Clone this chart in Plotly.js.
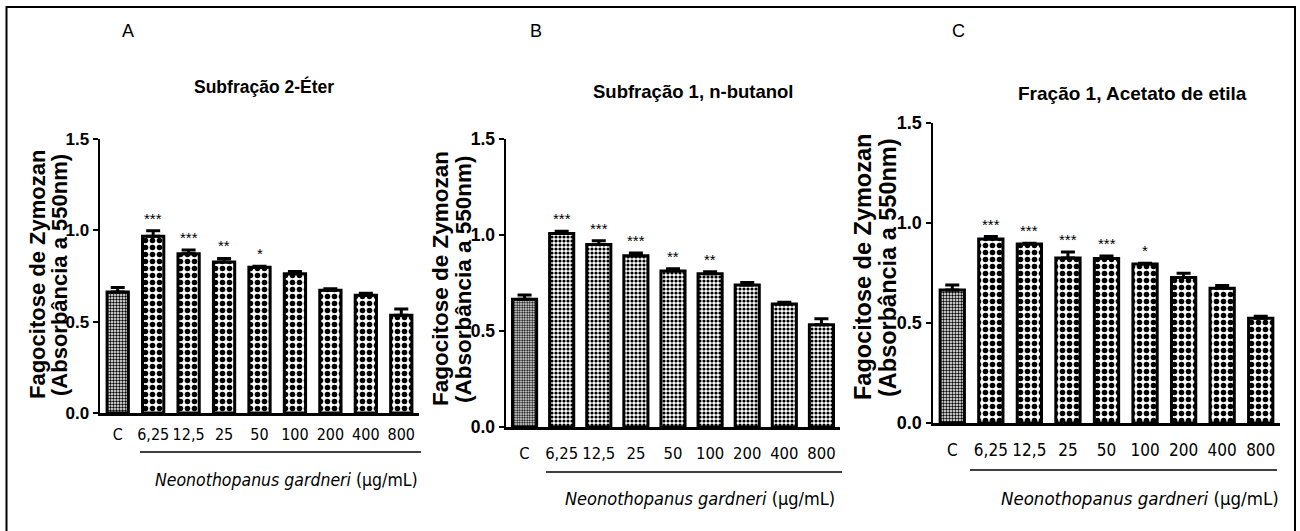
<!DOCTYPE html>
<html>
<head>
<meta charset="utf-8">
<script src="https://cdn.plot.ly/plotly-3.0.1.min.js"></script>
<style>html,body{margin:0;padding:0;background:#fff;}#chart{width:1300px;height:531px;}</style>
</head>
<body>
<div id="chart"></div>
<script>
// ---- data ----
const categories = ['C', '6,25', '12,5', '25', '50', '100', '200', '400', '800'];
const yTickVals = [0, 0.5, 1.0, 1.5];
const yTickText = ['0.0', '0.5', '1.0', '1.5'];

const valuesA = [0.662, 0.968, 0.872, 0.826, 0.798, 0.763, 0.672, 0.645, 0.535];
const errA    = [0.025, 0.030, 0.020, 0.020, 0.005, 0.012, 0.008, 0.010, 0.035];
const starsA  = ['', '***', '***', '**', '*', '', '', '', ''];

const valuesB = [0.665, 1.008, 0.950, 0.892, 0.812, 0.798, 0.740, 0.640, 0.532];
const errB    = [0.022, 0.012, 0.020, 0.014, 0.012, 0.010, 0.012, 0.010, 0.032];
const starsB  = ['', '***', '***', '***', '**', '**', '', '', ''];

const valuesC = [0.665, 0.920, 0.895, 0.825, 0.822, 0.795, 0.727, 0.674, 0.524];
const errC    = [0.025, 0.012, 0.004, 0.030, 0.013, 0.004, 0.022, 0.013, 0.010];
const starsC  = ['', '***', '***', '***', '***', '*', '', '', ''];

const panelLetters = ['A', 'B', 'C'];
const panelTitles = ['Subfração 2-Éter', 'Subfração 1, n-butanol', 'Fração 1, Acetato de etila'];
const yTitle1 = 'Fagocitose de Zymozan';
const yTitle2 = '(Absorbância a 550nm)';
const xTitle = '<i>Neonothopanus gardneri</i> (µg/mL)';

// ---- layout helpers (pixel -> paper) ----
const W = 1300, H = 531;
const px = v => v / W;
const py = v => 1 - v / H;

const NARROW = '"Liberation Sans Narrow", "Arial Narrow", "DejaVu Sans Condensed", sans-serif';
const ARIAL = '"Liberation Sans", Arial, sans-serif';

const panels = [
  {vals: valuesA, err: errA, stars: starsA, x0: 100, x1: 419, y0: 139, y1: 413,
   barW: 0.60, patCtrl: 3, patTreat: 7, letter: [128, 31], title: [264, 87], titleSize: 17.5,
   yFont: 22, tickFont: 17, xFont: 16, xtFont: 17.5,
   yt1: 37, yt2: 59, ytY: 275, line: [140, 421, 452], xt: [286, 480], tickY: 433},
  {vals: valuesB, err: errB, stars: starsB, x0: 506, x1: 840, y0: 139, y1: 427,
   barW: 0.65, patCtrl: 2.5, patTreat: 4, letter: [536, 31], title: [693, 91], titleSize: 18.5,
   yFont: 22.5, tickFont: 17.5, xFont: 16.5, xtFont: 18,
   yt1: 440, yt2: 463, ytY: 279, line: [546, 842, 472], xt: [700, 498], tickY: 451},
  {vals: valuesC, err: errC, stars: starsC, x0: 933, x1: 1280, y0: 123, y1: 423,
   barW: 0.63, patCtrl: 3, patTreat: 7, letter: [958, 31], title: [1132, 94], titleSize: 19,
   yFont: 23.5, tickFont: 18, xFont: 17, xtFont: 18.5,
   yt1: 863, yt2: 888, ytY: 267, line: [970, 1277, 470], xt: [1140, 498], tickY: 448}
];

const data = [];
const layout = {
  width: W, height: H, autosize: false,
  margin: {l: 0, r: 0, t: 0, b: 0, pad: 0},
  paper_bgcolor: '#fff', plot_bgcolor: 'rgba(0,0,0,0)',
  showlegend: false,
  annotations: [], shapes: []
};

panels.forEach((p, i) => {
  const n = i === 0 ? '' : String(i + 1);
  const xa = 'x' + n, ya = 'y' + n;
  const patSizes = categories.map((c, k) => k === 0 ? p.patCtrl : p.patTreat);
  data.push({
    type: 'bar', x: categories, y: p.vals, xaxis: xa, yaxis: ya,
    width: p.barW,
    marker: {
      color: '#fff',
      line: {color: '#000', width: 3},
      pattern: {shape: '.', size: patSizes, solidity: 0.5, fgcolor: '#000', bgcolor: '#fff', fillmode: 'replace'}
    },
    error_y: {type: 'data', symmetric: false, array: p.err, arrayminus: p.err.map(() => 0),
              color: '#000', thickness: 3, width: 7},
    hoverinfo: 'skip'
  });
  layout['xaxis' + n] = {
    domain: [px(p.x0), px(p.x1)], anchor: ya, type: 'category',
    range: [-0.5, 8.5], fixedrange: true,
    showline: true, linecolor: '#000', linewidth: 3,
    ticks: '', showgrid: false, zeroline: false,
    tickfont: {family: NARROW, size: p.xFont, color: '#000'},
    ticklabelstandoff: Math.round(p.tickY - p.y1 - 15)
  };
  layout['yaxis' + n] = {
    domain: [py(p.y1), py(p.y0)], anchor: xa,
    range: [0, 1.5], fixedrange: true,
    tickvals: yTickVals, ticktext: yTickText,
    showline: true, linecolor: '#000', linewidth: 2.5,
    ticks: 'outside', ticklen: 5, tickwidth: 2, tickcolor: '#000',
    showgrid: false, zeroline: false,
    tickfont: {family: ARIAL, size: p.tickFont, color: '#000', weight: 'bold'}
  };
  // significance stars (x given as category index)
  categories.forEach((c, k) => {
    if (p.stars[k]) {
      layout.annotations.push({
        xref: xa, yref: ya, x: k, y: p.vals[k] + p.err[k], text: p.stars[k],
        showarrow: false, yanchor: 'bottom', yshift: 2,
        font: {family: ARIAL, size: 15, color: '#000'}
      });
    }
  });
  // panel letter
  layout.annotations.push({xref: 'paper', yref: 'paper', x: px(p.letter[0]), y: py(p.letter[1]),
    text: panelLetters[i], showarrow: false, xanchor: 'center', yanchor: 'middle',
    font: {family: ARIAL, size: 18, color: '#000'}});
  // panel title
  layout.annotations.push({xref: 'paper', yref: 'paper', x: px(p.title[0]), y: py(p.title[1]),
    text: panelTitles[i], showarrow: false, xanchor: 'center', yanchor: 'middle',
    font: {family: ARIAL, size: p.titleSize, color: '#000', weight: 'bold'}});
  // y titles (two lines)
  layout.annotations.push({xref: 'paper', yref: 'paper', x: px(p.yt1), y: py(p.ytY),
    text: yTitle1, showarrow: false, textangle: -90, xanchor: 'center', yanchor: 'middle',
    font: {family: ARIAL, size: p.yFont, color: '#000', weight: 'bold'}});
  layout.annotations.push({xref: 'paper', yref: 'paper', x: px(p.yt2), y: py(p.ytY),
    text: yTitle2, showarrow: false, textangle: -90, xanchor: 'center', yanchor: 'middle',
    font: {family: ARIAL, size: p.yFont, color: '#000', weight: 'bold'}});
  // bracket line + x title
  layout.shapes.push({type: 'line', xref: 'paper', yref: 'paper',
    x0: px(p.line[0]), x1: px(p.line[1]), y0: py(p.line[2]), y1: py(p.line[2]),
    line: {color: '#000', width: 1.5}});
  layout.annotations.push({xref: 'paper', yref: 'paper', x: px(p.xt[0]), y: py(p.xt[1]),
    text: xTitle, showarrow: false, xanchor: 'center', yanchor: 'middle',
    font: {family: NARROW, size: p.xtFont, color: '#000'}});
});

// outer frame
layout.shapes.push({type: 'rect', xref: 'paper', yref: 'paper',
  x0: px(6.5), x1: px(1295), y0: py(545), y1: py(7),
  line: {color: '#000', width: 2}, fillcolor: 'rgba(0,0,0,0)'});

Plotly.newPlot('chart', data, layout, {staticPlot: true, displayModeBar: false});
</script>
</body>
</html>
